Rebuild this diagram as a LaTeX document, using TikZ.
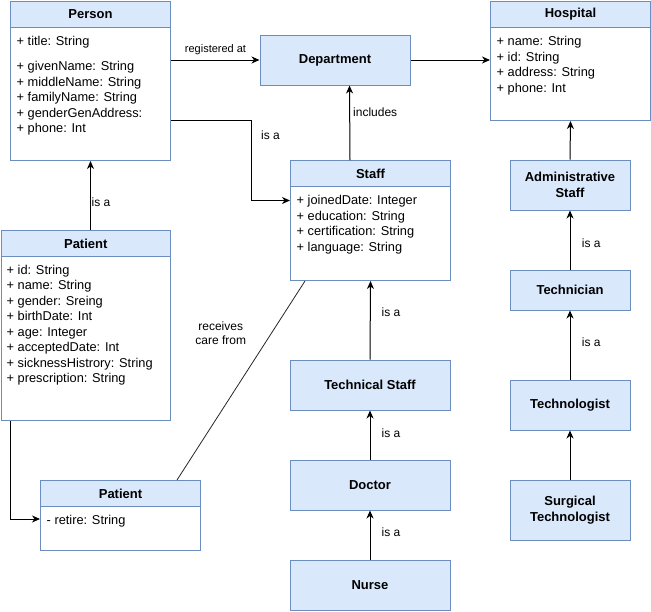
\documentclass[tikz,border=0pt]{standalone}
\usepackage{fontspec}
\setmainfont{Liberation Sans}
\usetikzlibrary{arrows.meta,calc}
\definecolor{boxfill}{HTML}{DAE8FC}
\definecolor{boxline}{HTML}{6C8EBF}
\tikzset{
  classframe/.style={draw=boxline, fill=white, line width=1pt, anchor=north west, inner sep=0pt, minimum width=160pt},
  classhead/.style={draw=boxline, fill=boxfill, line width=1pt, anchor=north west, inner sep=0pt, minimum width=160pt, minimum height=26pt, font=\bfseries\fontsize{13}{15}\selectfont},
  attrs/.style={anchor=north west, inner sep=0pt, align=left, font=\fontsize{12.8}{15.5}\selectfont},
  plainbox/.style={draw=boxline, fill=boxfill, line width=1pt, inner sep=0pt, align=center, font=\bfseries\fontsize{13}{16.5}\selectfont},
  arr/.style={draw=black, line width=1pt, -{Stealth[length=8pt,width=7pt,inset=2.5pt]}},
  assoc/.style={draw=black!85, line width=0.8pt},
  lbl/.style={inner sep=0pt, font=\fontsize{12}{14.7}\selectfont, align=center},
}
\begin{document}
\begin{tikzpicture}[x=1pt,y=-1pt]
\useasboundingbox (0,0) rectangle (651,611);

% Person
\node[classframe, minimum height=159pt] (personframe) at (10,1) {};
\node[classhead] (personhead) at (10,1) {Person};
\node[attrs] (personattrs) at (16.5,36.5) {+ title: String\\[9.5pt]+ givenName: String\\+ middleName: String\\+ familyName: String\\+ genderGenAddress:\\+ phone: Int};

% Hospital
\node[classframe, minimum height=119pt] (hospframe) at (490,1) {};
\node[classhead] (hosphead) at (490,1) {Hospital};
\node[attrs] (hospattrs) at (496.5,36.5) {+ name: String\\+ id: String\\+ address: String\\+ phone: Int};

% Staff
\node[classframe, minimum height=120pt] (staffframe) at (290,160) {};
\node[classhead] (staffhead) at (290,160) {Staff};
\node[attrs] (staffattrs) at (296.5,195.5) {+ joinedDate: Integer\\+ education: String\\+ certification: String\\+ language: String};

% Patient (top)
\node[classframe, minimum width=169.5pt, minimum height=190pt] (patientframe) at (0.5,230) {};
\node[classhead, minimum width=169.5pt] (patienthead) at (0.5,230) {Patient};
\node[attrs] (patientattrs) at (6.5,264.8) {+ id: String\\+ name: String\\+ gender: Sreing\\+ birthDate: Int\\+ age: Integer\\+ acceptedDate: Int\\+ sicknessHistrory: String\\+ prescription: String};

% Patient (bottom)
\node[classframe, minimum height=70pt] (patient2frame) at (40,480) {};
\node[classhead] (patient2head) at (40,480) {Patient};
\node[attrs] (patient2attrs) at (46.5,514.8) {- retire: String};

% Plain boxes
\node[plainbox, minimum width=150pt, minimum height=50pt] (dept) at (335,60) {Department};
\node[plainbox, minimum width=120pt, minimum height=50pt] (admin) at (570,185) {Administrative\\Staff};
\node[plainbox, minimum width=120pt, minimum height=40pt] (technician) at (570,290) {Technician};
\node[plainbox, minimum width=120pt, minimum height=50pt] (technologist) at (570,405) {Technologist};
\node[plainbox, minimum width=120pt, minimum height=60pt] (surgical) at (570,510) {Surgical\\Technologist};
\node[plainbox, minimum width=160pt, minimum height=50pt] (techstaff) at (370,385) {Technical Staff};
\node[plainbox, minimum width=160pt, minimum height=50pt] (doctor) at (370,485) {Doctor};
\node[plainbox, minimum width=160pt, minimum height=50pt] (nurse) at (370,585) {Nurse};

% Connectors
\draw[arr] (personframe.east |- dept.west) -- (dept.west);
\node[lbl, font=\fontsize{11}{13}\selectfont] (lblreg) at (215.5,50) {registered at};
\draw[arr] (dept.east) -- (hospframe.west |- dept.east);

\draw[arr] ($(staffframe.north west)+(60,0)$) -- ($(dept.south west)+(90,0)$);
\node[lbl, anchor=west] (lblinc) at (353,112.3) {includes};

\draw[arr] ($(personframe.north east)+(0,119.5)$) -- ++(80,0) |- ($(staffframe.west)+(0,-20)$);
\node[lbl] (lblisa1) at (270.5,135) {is a};

\draw[arr] (personframe.south |- patientframe.north) -- (personframe.south);
\node[lbl, anchor=west] (lblisa2) at (91.5,202.7) {is a};

\draw[arr] ($(patientframe.south west)+(10,0)$) |- ($(patient2frame.north west)+(0,39)$);

\draw[assoc] ($(staffframe.south west)+(15,0)$) -- ($(patient2frame.north west)+(137,0)$);
\node[lbl] (lblcare) at (220.7,333.3) {receives\\care from};

\draw[arr] (techstaff.north) -- (staffframe.south);
\node[lbl, anchor=west] (lblisa3) at (381.5,312.7) {is a};
\draw[arr] (doctor.north) -- (techstaff.south);
\node[lbl, anchor=west] (lblisa4) at (381.5,433.3) {is a};
\draw[arr] (nurse.north) -- (doctor.south);
\node[lbl, anchor=west] (lblisa5) at (381.5,532.7) {is a};

\draw[arr] (admin.north) -- (hospframe.south);
\draw[arr] (technician.north) -- (admin.south);
\node[lbl, anchor=west] (lblisa6) at (581.7,243.3) {is a};
\draw[arr] (technologist.north) -- (technician.south);
\node[lbl, anchor=west] (lblisa7) at (581.7,342.7) {is a};
\draw[arr] (surgical.north) -- (technologist.south);
\end{tikzpicture}
\end{document}
